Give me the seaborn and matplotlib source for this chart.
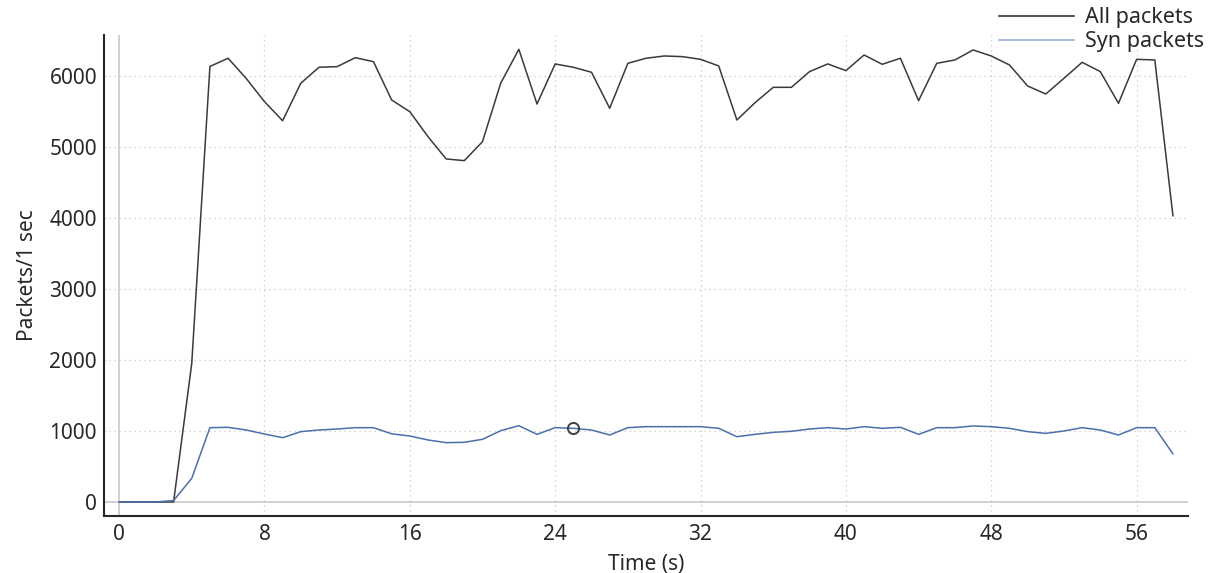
import matplotlib
matplotlib.use('Agg')
import matplotlib.pyplot as plt
from matplotlib.ticker import MultipleLocator
import numpy as np
import pandas as pd
import seaborn as sns

# data, one sample per second
time_s = list(range(0, 59))
all_packets = [0, 0, 0, 0, 1950, 6130, 6245, 5960, 5635, 5366,
               5893, 6118, 6127, 6253, 6197, 5658, 5493, 5142, 4828, 4804,
               5071, 5893, 6371, 5601, 6165, 6118, 6048, 5541, 6174, 6245,
               6277, 6268, 6230, 6137, 5376, 5620, 5836, 5836, 6057, 6165,
               6071, 6291, 6160, 6245, 5648, 6174, 6221, 6362, 6277, 6151,
               5855, 5742, 5963, 6188, 6057, 5611, 6230, 6221, 4025]
syn_packets = [0, 0, 0, 20, 333, 1046, 1051, 1013, 957, 905,
               990, 1013, 1027, 1046, 1046, 960, 929, 873, 835, 840,
               882, 1003, 1074, 952, 1046, 1037, 1013, 943, 1046, 1060,
               1060, 1060, 1060, 1037, 919, 952, 980, 995, 1027, 1046,
               1027, 1060, 1037, 1051, 952, 1046, 1046, 1070, 1060, 1037,
               990, 966, 999, 1046, 1013, 943, 1046, 1046, 676]
series_names = ['All packets', 'Syn packets']
marker_t = 25

df = pd.DataFrame({'Time (s)': time_s, series_names[0]: all_packets, series_names[1]: syn_packets})
long_df = df.melt(id_vars='Time (s)', var_name='series', value_name='Packets/1 sec')

sns.set_style('white')
plt.rcParams['font.family'] = ['Noto Sans', 'DejaVu Sans']

fig = plt.figure(figsize=(12.12, 5.73), dpi=100)
ax = fig.add_axes([0.0858, 0.0995, 0.894, 0.8395])

palette = {'All packets': '#3a3a3a', 'Syn packets': '#4a70aa'}
sns.lineplot(data=long_df, x='Time (s)', y='Packets/1 sec', hue='series',
             palette=palette, linewidth=1.1, ax=ax, legend=False)

# zero lines
ax.axhline(0, color='#c8c8c8', lw=1.2, zorder=0)
ax.axvline(0, color='#c8c8c8', lw=1.2, zorder=0)

# selected point marker
ax.plot(marker_t, syn_packets[marker_t], 'o', ms=8, mfc='none', mec='#404040', mew=1.4)

ax.set_xlim(-0.83, 58.8)
ax.set_ylim(-197, 6573)
ax.xaxis.set_major_locator(MultipleLocator(8))
ax.xaxis.set_minor_locator(MultipleLocator(2))
ax.yaxis.set_major_locator(MultipleLocator(1000))
ax.yaxis.set_minor_locator(MultipleLocator(1000 / 3))

for t in range(8, 57, 8):
    ax.axvline(t, color='#c8c8c8', lw=0.9, ls=(0, (1, 3)), zorder=0)
for v in range(1000, 7000, 1000):
    ax.axhline(v, color='#c8c8c8', lw=0.9, ls=(0, (1, 3)), zorder=0)

ax.tick_params(axis='both', which='major', direction='in', length=8, width=1.3,
               colors='#282828', labelsize=15, labelcolor='#282828')
ax.tick_params(axis='both', which='minor', direction='in', length=4, width=1.1, colors='#282828')
ax.tick_params(axis='x', pad=6)
ax.tick_params(axis='y', pad=5)

for side in ['top', 'right']:
    ax.spines[side].set_visible(False)
for side in ['left', 'bottom']:
    ax.spines[side].set_color('#282828')
    ax.spines[side].set_linewidth(1.5)

ax.set_xlabel('Time (s)', fontsize=15, color='#282828', labelpad=6)
ax.set_ylabel('Packets/1 sec', fontsize=15, color='#282828', labelpad=8)

handles = [plt.Line2D([], [], color='#555555', lw=1.5),
           plt.Line2D([], [], color='#a8bedc', lw=1.5)]
fig.legend(handles, series_names, loc='upper right', bbox_to_anchor=(1.004, 1.01),
           frameon=False, fontsize=15.5, handlelength=3.5, labelspacing=0.15,
           borderpad=0.1, handletextpad=0.5, labelcolor='#282828')

fig.savefig('out.png', dpi=100)
